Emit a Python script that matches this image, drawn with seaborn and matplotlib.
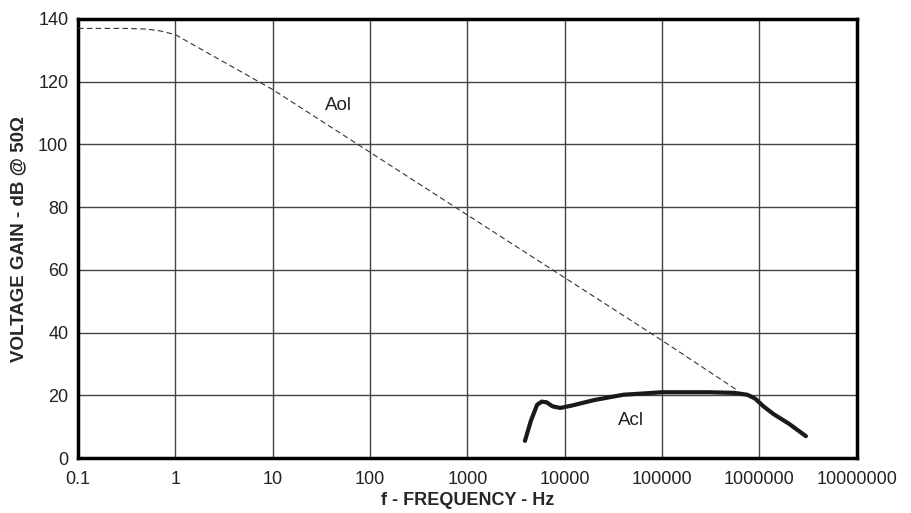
import matplotlib
matplotlib.use("Agg")
import matplotlib.pyplot as plt
import pandas as pd
import seaborn as sns

# Open-loop gain (dashed) and closed-loop gain (thick)
aol_freq = [0.1, 0.3, 0.5, 0.7, 1, 10, 100, 1000, 10000, 100000, 600000]
aol_gain = [137, 137, 136.8, 136.2, 135, 117.5, 97.5, 77.5, 57.5, 37.5, 21.5]

acl_freq = [3900, 4500, 5200, 5800, 6500, 7500, 9000, 12000, 20000, 40000,
            100000, 300000, 550000, 750000, 900000, 1100000, 1400000, 2000000, 3000000]
acl_gain = [5.5, 12, 17, 18, 17.8, 16.5, 16, 16.8, 18.5, 20.2,
            21, 21, 20.8, 20.2, 19, 16.5, 14, 11, 7]

x_ticks = [0.1, 1, 10, 100, 1000, 10000, 100000, 1000000, 10000000]
x_labels = ["0.1", "1", "10", "100", "1000", "10000", "100000", "1000000", "10000000"]
y_ticks = [0, 20, 40, 60, 80, 100, 120, 140]

sns.set_style("white")
plt.rcParams['font.family'] = ['Liberation Sans', 'DejaVu Sans']

fig = plt.figure(figsize=(9.12, 5.13), dpi=100)
ax = fig.add_axes([0.0855, 0.107, 0.854, 0.856])

df_aol = pd.DataFrame({"f": aol_freq, "gain": aol_gain})
df_acl = pd.DataFrame({"f": acl_freq, "gain": acl_gain})

sns.lineplot(data=df_aol, x="f", y="gain", ax=ax, color="#333333",
             linewidth=0.8, linestyle=(0, (5, 3)), zorder=3)
sns.lineplot(data=df_acl, x="f", y="gain", ax=ax, color="#1a1a1a",
             linewidth=3, zorder=4)

ax.set_xscale("log")
ax.set_xlim(0.1, 1e7)
ax.set_ylim(0, 140)
ax.set_xticks(x_ticks)
ax.set_xticklabels(x_labels)
ax.set_yticks(y_ticks)
ax.minorticks_off()
ax.tick_params(axis="x", labelsize=13, length=0, pad=9, colors="#222222")
ax.tick_params(axis="y", labelsize=13, length=0, pad=7, colors="#222222")

ax.grid(True, which="major", color="#444444", linewidth=1)
for s in ax.spines.values():
    s.set_color("black")
    s.set_linewidth(2.5)

ax.set_xlabel("f - FREQUENCY - Hz", fontsize=13, fontweight="bold", labelpad=3)
ax.set_ylabel("VOLTAGE GAIN - dB @ 50\u03a9", fontsize=13.5, fontweight="bold", labelpad=8)

ax.text(47, 112.5, "Aol", fontsize=13.5, ha="center", va="center", color="#222222")
ax.text(48000, 12, "Acl", fontsize=13.5, ha="center", va="center", color="#222222")

fig.savefig("out.png", dpi=100)
